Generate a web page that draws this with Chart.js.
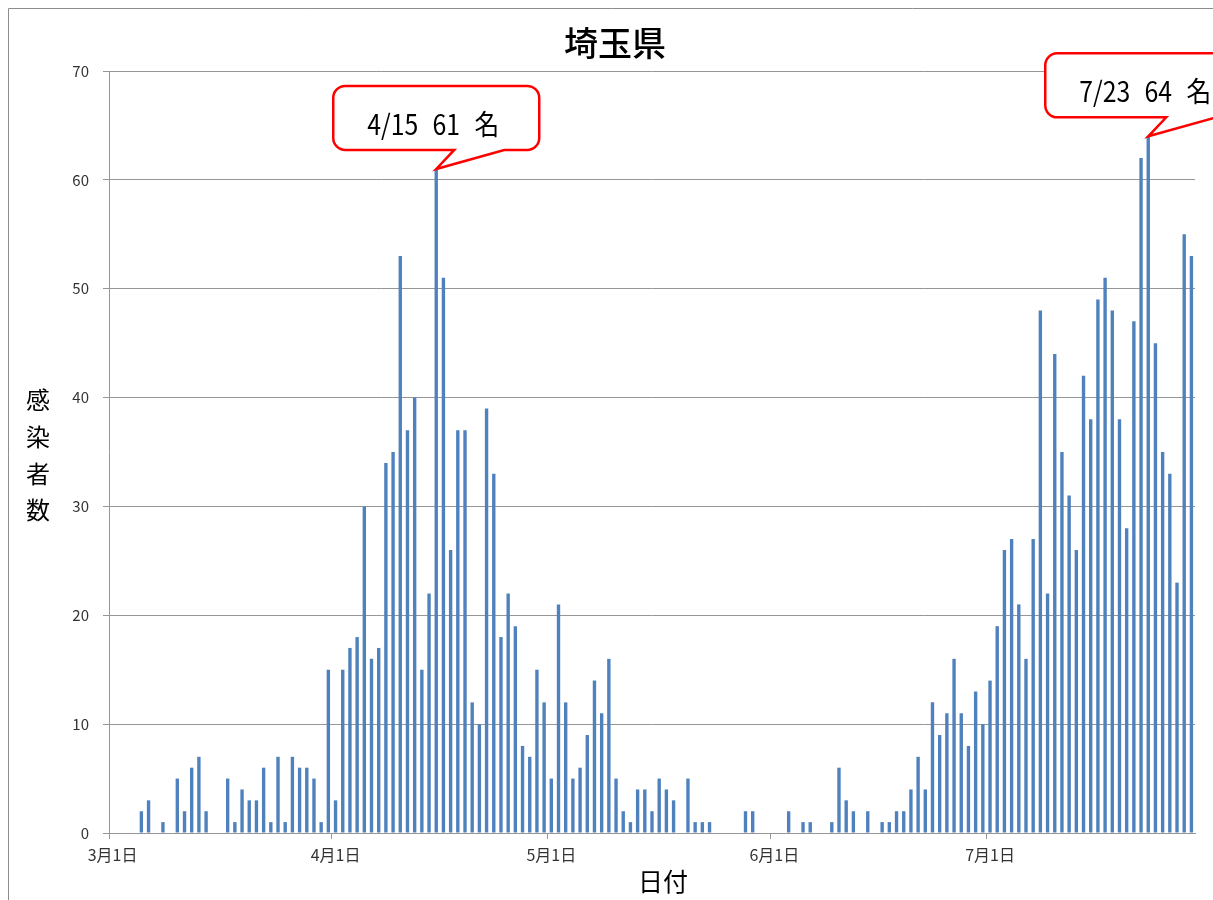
<!DOCTYPE html>
<html><head><meta charset="utf-8">
<script src="https://cdn.jsdelivr.net/npm/chart.js@4.4.1/dist/chart.umd.min.js"></script>
<style>
html,body{margin:0;padding:0;background:#fff;}
#wrap{position:relative;width:1213px;height:900px;overflow:hidden;}
canvas{display:block;}
</style></head><body>
<div id="wrap"><canvas id="c" width="1213" height="900"></canvas></div>
<script>
const chartTitle = '埼玉県';
const xAxisTitle = '日付';
const yAxisTitle = ['感', '染', '者', '数'];
const months = [3, 4, 5, 6, 7];
const marchCases = [0,0,0,0,2,3,0,1,0,5,2,6,7,2,0,0,5,1,4,3,3,6,1,7,1,7,6,6,5,1,15];
const aprilCases = [3,15,17,18,30,16,17,34,35,53,37,40,15,22,61,51,26,37,37,12,10,39,33,18,22,19,8,7,15,12];
const mayCases = [5,21,12,5,6,9,14,11,16,5,2,1,4,4,2,5,4,3,0,5,1,1,1,0,0,0,0,2,2,0,0];
const juneCases = [0,0,2,0,1,1,0,0,1,6,3,2,0,2,0,1,1,2,2,4,7,4,12,9,11,16,11,8,13,10];
const julyCases = [14,19,26,27,21,16,27,48,22,44,35,31,26,42,38,49,51,48,38,28,47,62,64,45,35,33,23,55,53];
const yMin = 0, yMax = 70, yStep = 10;
const calloutMonths = [4, 7];
const calloutDays = [15, 23];
const calloutUnit = '名';

const monthSeries = [marchCases, aprilCases, mayCases, juneCases, julyCases];
const labels = [], dayNums = [], monthNums = [], values = [];
monthSeries.forEach((arr, mi) => {
  arr.forEach((v, di) => {
    labels.push(months[mi] + '月' + (di + 1) + '日');
    dayNums.push(di + 1);
    monthNums.push(months[mi]);
    values.push(v);
  });
});

const FONT = '"Noto Sans CJK JP", "Noto Sans", sans-serif';
const GRID = '#969696';

const decor = {
  id: 'decor',
  afterDraw(chart) {
    const ctx = chart.ctx;
    const xs = chart.scales.x, ys = chart.scales.y;
    ctx.save();
    // frame
    ctx.strokeStyle = '#8c8c8c';
    ctx.lineWidth = 1;
    ctx.beginPath();
    ctx.moveTo(8.5, 905); ctx.lineTo(8.5, 8.5); ctx.lineTo(1220, 8.5);
    ctx.stroke();
    // title
    ctx.fillStyle = '#000';
    ctx.textAlign = 'center';
    ctx.textBaseline = 'middle';
    ctx.font = '500 34px ' + FONT;
    ctx.fillText(chartTitle, 615, 43);
    // x title
    ctx.font = '25px ' + FONT;
    ctx.fillText(xAxisTitle, 663, 881);
    // y title stacked
    ctx.font = '24px ' + FONT;
    yAxisTitle.forEach((ch, i) => ctx.fillText(ch, 38, 400 + i * 36.7));
    // callouts
    calloutMonths.forEach((m, k) => {
      const idx = labels.findIndex((l, i) => monthNums[i] === m && dayNums[i] === calloutDays[k]);
      const tx = xs.getPixelForValue(idx);
      const ty = ys.getPixelForValue(values[idx]);
      const W = 206, H = 64, r = 12;
      const L = tx - 103, T = ty - 83;
      const b1 = L + 121, b2 = L + 171;
      ctx.beginPath();
      ctx.moveTo(L + r, T);
      ctx.lineTo(L + W - r, T);
      ctx.arcTo(L + W, T, L + W, T + r, r);
      ctx.lineTo(L + W, T + H - r);
      ctx.arcTo(L + W, T + H, L + W - r, T + H, r);
      ctx.lineTo(b2, T + H);
      ctx.lineTo(tx, ty);
      ctx.lineTo(b1, T + H);
      ctx.lineTo(L + r, T + H);
      ctx.arcTo(L, T + H, L, T + H - r, r);
      ctx.lineTo(L, T + r);
      ctx.arcTo(L, T, L + r, T, r);
      ctx.closePath();
      ctx.fillStyle = '#fff';
      ctx.fill();
      ctx.strokeStyle = '#ff0000';
      ctx.lineWidth = 2.5;
      ctx.lineJoin = 'miter';
      ctx.stroke();
      const text = m + '/' + calloutDays[k] + ' ' + values[idx] + ' ' + calloutUnit;
      ctx.font = '28px ' + FONT;
      ctx.fillStyle = '#000';
      ctx.wordSpacing = '10px';
      const w = ctx.measureText(text).width;
      const sx = Math.min(1, 132 / w);
      ctx.save();
      ctx.translate(L + 100, T + 38);
      ctx.scale(sx, 1);
      ctx.textAlign = 'center';
      ctx.fillText(text, 0, 0);
      ctx.restore();
      ctx.wordSpacing = '0px';
    });
    ctx.restore();
  }
};

new Chart(document.getElementById('c'), {
  type: 'bar',
  data: {
    labels: labels,
    datasets: [{
      data: values,
      backgroundColor: '#4F81BD',
      borderWidth: 0,
      categoryPercentage: 1,
      barPercentage: 0.47
    }]
  },
  options: {
    responsive: false,
    animation: false,
    layout: { padding: { left: 0, right: 18, top: 71, bottom: 0 } },
    plugins: { legend: { display: false }, tooltip: { enabled: false }, title: { display: false } },
    scales: {
      x: {
        offset: true,
        grid: {
          display: true, drawOnChartArea: false, drawTicks: true, tickLength: 6, offset: true,
          color: c => (c.tick && dayNums[c.index] === 1) ? GRID : 'rgba(0,0,0,0)'
        },
        border: { display: true, color: GRID },
        ticks: {
          autoSkip: false, maxRotation: 0, minRotation: 0, padding: 6,
          font: { size: 16, family: FONT }, color: '#333',
          callback: (v, i) => dayNums[i] === 1 ? labels[i] : ''
        },
        afterFit: s => { s.height = 67; }
      },
      y: {
        min: yMin, max: yMax,
        ticks: { stepSize: yStep, padding: 14, font: { size: 15, family: FONT }, color: '#333' },
        grid: { color: GRID, tickLength: 6 },
        border: { display: true, color: GRID },
        afterFit: s => { s.width = 109; }
      }
    }
  },
  plugins: [decor]
});
</script>
</body></html>
